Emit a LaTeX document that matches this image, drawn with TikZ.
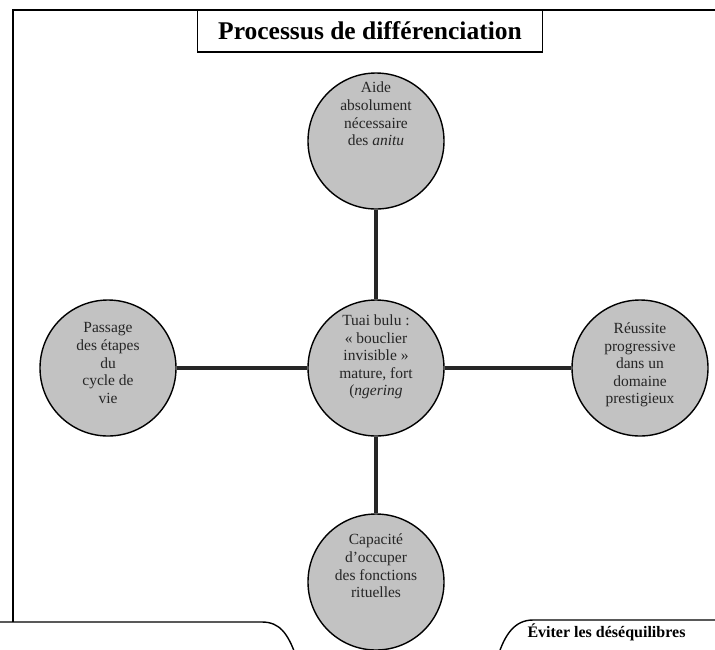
\documentclass[tikz,border=0pt]{standalone}
\usepackage{fontspec}
\setmainfont{Liberation Serif}
\usetikzlibrary{positioning, calc}

\begin{document}
\begin{tikzpicture}[
    x=1pt, y=-1pt,
    every node/.style={font=\fontsize{15.5}{17.6}\selectfont},
    disc/.style={draw, line width=1.4pt, fill=black!24, circle, minimum size=136pt, inner sep=0pt},
    disctext/.style={align=center, text=black!85},
    titlebox/.style={draw, line width=1.2pt, fill=white, rectangle, minimum width=345pt, minimum height=42pt, font=\fontsize{25.5}{28}\selectfont\bfseries},
    spoke/.style={line width=3.6pt, black!85}
]
    \useasboundingbox (0,0) rectangle (715,649);
    \clip (0,0) rectangle (715,649);

    % Frame
    \draw[line width=1.3pt] (13,622) -- (13,10) -- (720,10);
    \node[titlebox] (title) at (370,31) {Processus de différenciation};

    % Circles
    \node[disc] (mid) at (376,368) {};
    \node[disc] (top) at (376,141) {};
    \node[disc] (left) at (108,368) {};
    \node[disc] (right) at (640,368) {};
    \node[disc] (bottom) at (376,582) {};

    % Spokes
    \draw[spoke] (top) -- (mid);
    \draw[spoke] (left) -- (mid);
    \draw[spoke] (mid) -- (right);
    \draw[spoke] (mid) -- (bottom);

    % Texts
    \node[disctext] (toptext) at ([yshift=27pt]top.center) {Aide\\absolument\\nécessaire\\des \textit{anitu}};
    \node[disctext] (midtext) at ([yshift=11pt]mid.center) {Tuai bulu :\\« bouclier\\invisible »\\mature, fort\\(\textit{ngering}};
    \node[disctext] (lefttext) at ([yshift=5pt]left.center) {Passage\\des étapes\\du\\cycle de\\vie};
    \node[disctext] (righttext) at ([yshift=3pt]right.center) {Réussite\\progressive\\dans un\\domaine\\prestigieux};
    \node[disctext] (bottomtext) at ([yshift=16pt]bottom.center) {Capacité\\d'occuper\\des fonctions\\rituelles};

    % Lower boxes
    \draw[line width=1.4pt] (-5,622) -- (262,622) .. controls (280,622) and (288,634) .. (296,656);
    \draw[line width=1.4pt] (498,656) .. controls (505,634) and (515,620) .. (533,620) -- (720,620);
    \node[anchor=base west, font=\fontsize{16}{18}\selectfont\bfseries] (note) at (524,637) {Éviter les déséquilibres};
\end{tikzpicture}
\end{document}
